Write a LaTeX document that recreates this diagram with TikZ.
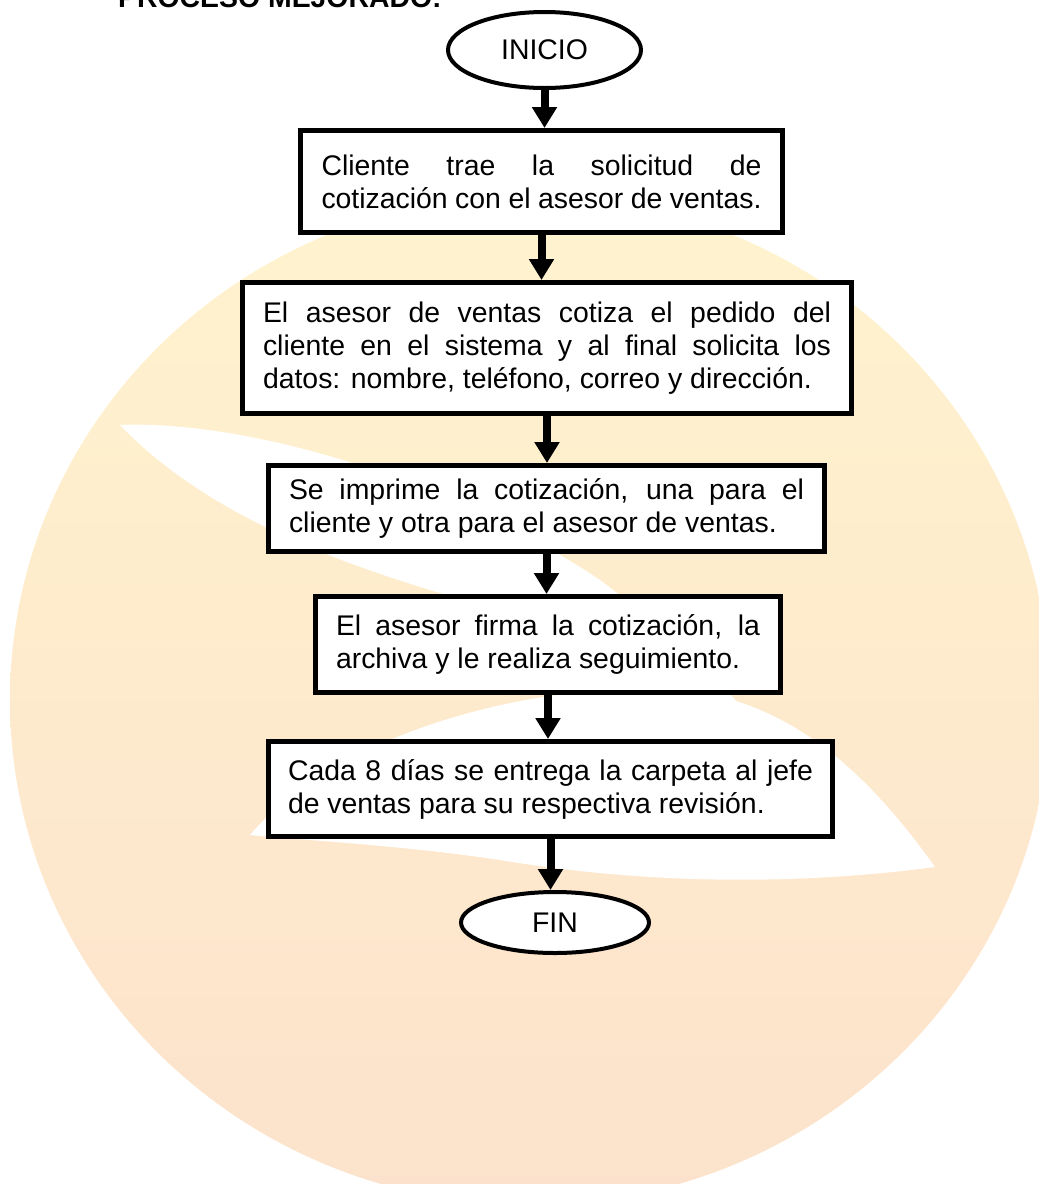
\documentclass[tikz,border=0pt]{standalone}
\usepackage{fontspec}
\setmainfont{Liberation Sans}
\usetikzlibrary{arrows.meta,shapes.geometric}
\setlength{\parindent}{0pt}
\definecolor{wmtop}{RGB}{255,243,206}
\definecolor{wmmid}{RGB}{254,234,204}
\definecolor{wmbot}{RGB}{252,226,204}
\newcommand\jline[1]{{\parfillskip=0pt\relax #1\par}}
\tikzset{
  stepbox/.style={draw, line width=5pt, fill=white, align=justify,
    font=\fontsize{28.4}{33}\selectfont, inner xsep=0pt, inner ysep=0pt},
  termnode/.style={draw, ellipse, line width=4pt, fill=white,
    font=\fontsize{28.4}{33}\selectfont, inner sep=0pt},
  arr/.style={line width=8pt, -{Triangle[width=24pt,length=21pt]}},
  wmwhite/.style={fill=white}
}
\begin{document}
\begin{tikzpicture}[x=1pt,y=-1pt]
\useasboundingbox (0,0) rectangle (1039,1184);
% watermark
\shade[top color=wmtop, middle color=wmmid, bottom color=wmbot]
  (530,700) ellipse [x radius=520, y radius=505];
\fill[wmwhite] (120,425) .. controls (250,420) and (450,480) .. (600,580)
  .. controls (680,640) and (730,690) .. (760,730)
  .. controls (700,700) and (640,650) .. (560,625)
  .. controls (420,590) and (230,540) .. (120,425) -- cycle;
\fill[wmwhite] (250,835) .. controls (330,740) and (520,680) .. (680,690)
  .. controls (800,700) and (880,790) .. (935,867)
  .. controls (800,885) and (650,885) .. (500,860)
  .. controls (400,845) and (300,840) .. (250,835) -- cycle;
% title (cut off at top)
\node[anchor=base west, inner sep=0pt, font=\bfseries\fontsize{28.4}{30}\selectfont] (title) at (118,7) {PROCESO MEJORADO:};
% nodes
\node[termnode, minimum width=193pt, minimum height=76pt] (ini) at (544.5,50) {INICIO};
\node[stepbox, text width=440pt, minimum width=482pt, minimum height=102pt] (b1) at (541.5,181.5)
  {\jline{Cliente trae la solicitud de}cotización con el asesor de ventas.};
\node[stepbox, text width=568pt, minimum width=609pt, minimum height=131pt] (b2) at (547,348)
  {\jline{El asesor de ventas cotiza el pedido del}\jline{cliente en el sistema y al final solicita los}datos: nombre, teléfono, correo y dirección.};
\node[stepbox, text width=515pt, minimum width=556pt, minimum height=86pt] (b3) at (546.5,508.5)
  {\jline{Se imprime la cotización, una para el}cliente y otra para el asesor de ventas.};
\node[stepbox, text width=424pt, minimum width=465pt, minimum height=96pt] (b4) at (548,644.5)
  {\jline{El asesor firma la cotización, la}archiva y le realiza seguimiento.};
\node[stepbox, text width=525pt, minimum width=564pt, minimum height=95pt] (b5) at (550.5,789)
  {\jline{Cada 8 días se entrega la carpeta al jefe}de ventas para su respectiva revisión.};
\node[termnode, minimum width=188pt, minimum height=61pt] (fin) at (555,922.5) {FIN};
% arrows
\draw[arr] (ini.south) -- (ini.south |- b1.north);
\draw[arr] (b1.south) -- (b1.south |- b2.north);
\draw[arr] (b2.south) -- (b2.south |- b3.north);
\draw[arr] (b3.south) -- (b3.south |- b4.north);
\draw[arr] (b4.south) -- (b4.south |- b5.north);
\draw[arr] (b5.south) -- (b5.south |- fin.north);
\end{tikzpicture}
\end{document}
